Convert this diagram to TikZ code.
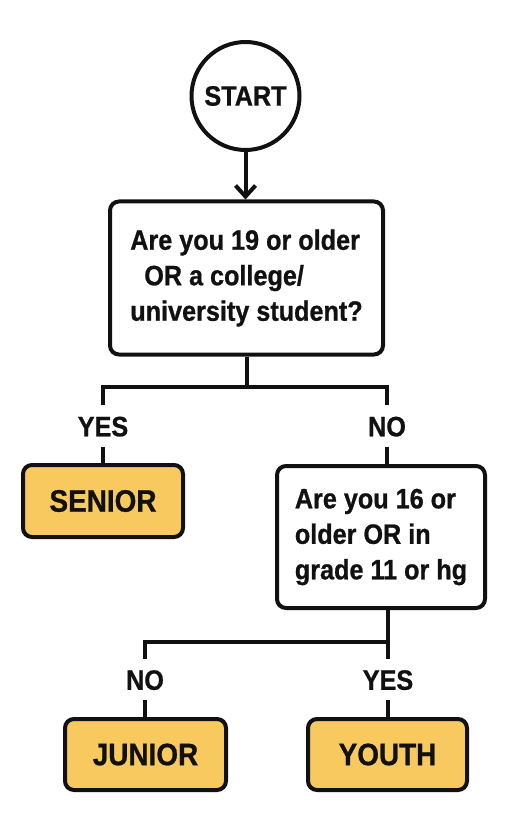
\documentclass[tikz,border=0pt]{standalone}
\usepackage{fontspec}
\newfontfamily\dfont{Liberation Sans}[FakeStretch=0.9, FakeBold=0.8]
\usetikzlibrary{arrows.meta}
\definecolor{ink}{HTML}{111111}
\definecolor{gold}{RGB}{247,201,94}
\begin{document}
\begin{tikzpicture}[x=1pt,y=-1pt,
  conn/.style={draw=ink, line width=4pt},
  qbox/.style={draw=ink, line width=4pt, rounded corners=9pt, fill=white, align=left,
    inner sep=0pt, text=ink, font=\dfont\bfseries\fontsize{28}{35.5}\selectfont},
  rbox/.style={draw=ink, line width=4pt, rounded corners=9pt, fill=gold, inner sep=0pt,
    text=ink, font=\dfont\bfseries\fontsize{31}{37}\selectfont},
  startc/.style={circle, draw=ink, line width=4pt, fill=white, minimum size=108pt, inner sep=0pt,
    text=ink, font=\dfont\bfseries\fontsize{28}{34}\selectfont},
  lab/.style={inner xsep=2pt, inner ysep=0pt, text height=20.5pt, text depth=0pt,
    minimum height=41pt, text=ink, font=\dfont\bfseries\fontsize{28}{34}\selectfont}
]
\useasboundingbox (0,0) rectangle (530,818);
\fill[white] (0,0) rectangle (530,818);

\node[startc] (start) at (245.5,96) {START};
\node[qbox, minimum width=273pt, minimum height=153pt] (q1) at (246.5,278)
  {Are you 19 or older\\\hspace*{14pt}OR a college/\\university student?};
\node[lab] (yes1) at (103,426) {YES};
\node[lab] (no1) at (387,426) {NO};
\node[rbox, minimum width=160pt, minimum height=72pt] (senior) at (103,501) {SENIOR};
\node[qbox, minimum width=208pt, minimum height=142pt] (q2) at (381,537)
  {Are you 16 or\\older OR in\\grade 11 or hg};
\node[lab] (no2) at (145,679.5) {NO};
\node[lab] (yes2) at (388,679.5) {YES};
\node[rbox, minimum width=161pt, minimum height=71pt] (junior) at (145.5,754.5) {JUNIOR};
\node[rbox, minimum width=159pt, minimum height=71pt] (youth) at (387.5,754.5) {YOUTH};

\coordinate (j1) at (246.5,387);
\coordinate (j2) at (388,642);

\draw[conn, -{Straight Barb[length=11pt, width=20pt, line width=4pt]}]
  (start.south) -- (start.south |- q1.north);
\draw[conn] (q1.south) -- (j1);
\draw[conn] (yes1.north) |- (j1) -| (no1.north);
\draw[conn] (yes1.south) -- (senior.north);
\draw[conn] (no1.south) -- (no1.south |- q2.north);
\draw[conn] (j2 |- q2.south) -- (yes2.north);
\draw[conn] (no2.north) |- (j2);
\draw[conn] (no2.south) -- (no2.south |- junior.north);
\draw[conn] (yes2.south) -- (yes2.south |- youth.north);
\end{tikzpicture}
\end{document}
